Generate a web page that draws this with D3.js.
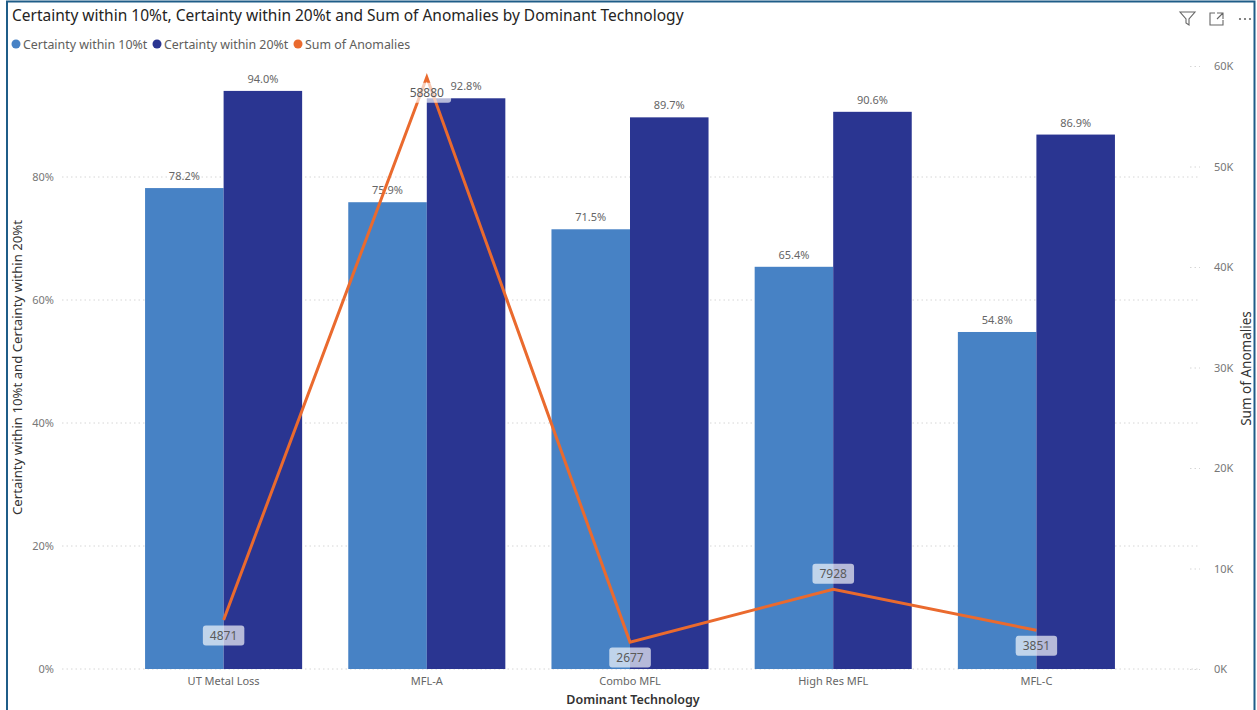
<!DOCTYPE html>
<html>
<head>
<meta charset="utf-8">
<script src="https://cdn.jsdelivr.net/npm/d3@7"></script>
<style>
  html, body { margin: 0; padding: 0; background: #fff; }
  svg { display: block; font-family: "Noto Sans", "Open Sans", sans-serif; }
</style>
</head>
<body>
<svg id="chart" width="1257" height="710"></svg>
<script>
// Dominant technology categories and their measures
const categories = ["UT Metal Loss", "MFL-A", "Combo MFL", "High Res MFL", "MFL-C"];
const certainty10 = [0.782, 0.759, 0.715, 0.654, 0.548];
const certainty20 = [0.940, 0.928, 0.897, 0.906, 0.869];
const anomalies = [4871, 58880, 2677, 7928, 3851];
const leftTicks = [0, 0.2, 0.4, 0.6, 0.8];
const rightTicks = [0, 10000, 20000, 30000, 40000, 50000, 60000];
const seriesNames = ["Certainty within 10%t", "Certainty within 20%t", "Sum of Anomalies"];

const colors = { c10: "#4782c5", c20: "#2a3591", line: "#ea6a2e" };

const svg = d3.select("#chart");

// frame around the visual
svg.append("path")
  .attr("d", "M7,712 V1.5 H1254.5 V712")
  .attr("fill", "none").attr("stroke", "#1f5d88").attr("stroke-width", 2);

const plot = { left: 62, right: 1200, top: 66, bottom: 669 };

const x = d3.scaleBand().domain(categories).range([122, 1138])
  .paddingInner(0.227).paddingOuter(0.1135);
const xSub = d3.scaleBand().domain(["c10", "c20"]).range([0, x.bandwidth()]);
const yLeft = d3.scaleLinear().domain([0, 0.9805]).range([plot.bottom, plot.top]);
const yRight = d3.scaleLinear().domain([0, 60000]).range([plot.bottom, plot.top]);

// title
svg.append("text").attr("x", 12).attr("y", 21)
  .attr("font-size", 15.5).attr("fill", "#252423")
  .text("Certainty within 10%t, Certainty within 20%t and Sum of Anomalies by Dominant Technology");

// legend
const legendX = [16, 157, 298];
const legendColors = [colors.c10, colors.c20, colors.line];
seriesNames.forEach((name, i) => {
  svg.append("circle").attr("cx", legendX[i]).attr("cy", 44).attr("r", 4.5).attr("fill", legendColors[i]);
  svg.append("text").attr("x", legendX[i] + 7).attr("y", 48.5)
    .attr("font-size", 12.4).attr("fill", "#605e5c").text(name);
});

// header icons (filter, focus mode, more options)
const icons = svg.append("g").attr("fill", "none").attr("stroke", "#666").attr("stroke-width", 1.1);
icons.append("path").attr("d", "M1180,12 H1195 L1189,19 V25 L1186,23 V19 Z");
icons.append("path").attr("d", "M1215,13 H1210 V25 H1223 V20 M1217,13 H1223 V19 M1223,13 L1217,19");
[1240, 1245, 1250].forEach(cx => svg.append("circle").attr("cx", cx).attr("cy", 19).attr("r", 1.1).attr("fill", "#666"));

// gridlines from left axis
svg.append("g").selectAll("line").data(leftTicks).join("line")
  .attr("x1", plot.left).attr("x2", plot.right)
  .attr("y1", d => yLeft(d)).attr("y2", d => yLeft(d))
  .attr("stroke", "#d6d6d6").attr("stroke-width", 1).attr("stroke-dasharray", "1.5,3");

// left axis
const leftAxis = svg.append("g").attr("transform", `translate(${plot.left - 8},0)`)
  .call(d3.axisLeft(yLeft).tickValues(leftTicks).tickFormat(d3.format(".0%")).tickSize(0).tickPadding(0));
leftAxis.select(".domain").remove();
leftAxis.selectAll("text").attr("font-size", 11).attr("fill", "#777").attr("font-family", "Noto Sans, sans-serif");

// right axis
const rightAxis = svg.append("g").attr("transform", `translate(${plot.right},0)`)
  .call(d3.axisRight(yRight).tickValues(rightTicks).tickFormat(d => d / 1000 + "K").tickSize(0).tickPadding(14));
rightAxis.select(".domain").remove();
rightAxis.selectAll("text").attr("font-size", 11).attr("fill", "#777").attr("font-family", "Noto Sans, sans-serif");
rightAxis.selectAll(".tick").append("line")
  .attr("x1", -10).attr("x2", 0).attr("stroke", "#d6d6d6").attr("stroke-dasharray", "1.5,3");

// axis titles
svg.append("text").attr("transform", `translate(22,${(plot.top + plot.bottom) / 2}) rotate(-90)`)
  .attr("text-anchor", "middle").attr("font-size", 13.2).attr("fill", "#333")
  .text("Certainty within 10%t and Certainty within 20%t");
svg.append("text").attr("transform", `translate(1251,${(plot.top + plot.bottom) / 2 + 1}) rotate(-90)`)
  .attr("text-anchor", "middle").attr("font-size", 13.5).attr("fill", "#333")
  .text("Sum of Anomalies");
svg.append("text").attr("x", x("Combo MFL") + x.bandwidth() / 2 + 3).attr("y", 704)
  .attr("text-anchor", "middle").attr("font-size", 12.5).attr("font-weight", 600).attr("fill", "#333")
  .text("Dominant Technology");

// category labels
svg.append("g").selectAll("text").data(categories).join("text")
  .attr("x", d => x(d) + x.bandwidth() / 2).attr("y", 685)
  .attr("text-anchor", "middle").attr("font-size", 11).attr("fill", "#666")
  .text(d => d);

// bars
const rows = categories.map((c, i) => ({ cat: c, c10: certainty10[i], c20: certainty20[i], anom: anomalies[i] }));
const groups = svg.append("g").selectAll("g").data(rows).join("g")
  .attr("transform", d => `translate(${x(d.cat)},0)`);
["c10", "c20"].forEach(key => {
  groups.append("rect")
    .attr("x", xSub(key)).attr("width", xSub.bandwidth())
    .attr("y", d => yLeft(d[key])).attr("height", d => yLeft(0) - yLeft(d[key]))
    .attr("fill", colors[key]);
  groups.append("text")
    .attr("x", xSub(key) + xSub.bandwidth() / 2).attr("y", d => yLeft(d[key]) - 8)
    .attr("text-anchor", "middle").attr("font-size", 11).attr("fill", "#666")
    .text(d => d3.format(".1%")(d[key]));
});

// anomalies line
const cx = d => x(d.cat) + x.bandwidth() / 2;
svg.append("path").datum(rows)
  .attr("d", d3.line().x(cx).y(d => yRight(d.anom)))
  .attr("fill", "none").attr("stroke", colors.line).attr("stroke-width", 3).attr("stroke-linejoin", "miter");

// anomaly data labels with translucent boxes
const labelSide = [1, 1, 1, -1, 1];
const labels = svg.append("g").selectAll("g").data(rows).join("g")
  .attr("transform", (d, i) => `translate(${cx(d)},${yRight(d.anom) + labelSide[i] * 15.5})`);
labels.append("text")
  .attr("text-anchor", "middle").attr("dy", "0.35em").attr("font-size", 12).attr("fill", "#5a5a5a")
  .text(d => String(d.anom));
labels.each(function () {
  const g = d3.select(this);
  const bb = g.select("text").node().getBBox();
  g.insert("rect", "text")
    .attr("x", bb.x - 7).attr("y", -10).attr("width", bb.width + 14).attr("height", 20)
    .attr("rx", 3).attr("fill", "#fff").attr("fill-opacity", 0.66);
});
</script>
</body>
</html>
